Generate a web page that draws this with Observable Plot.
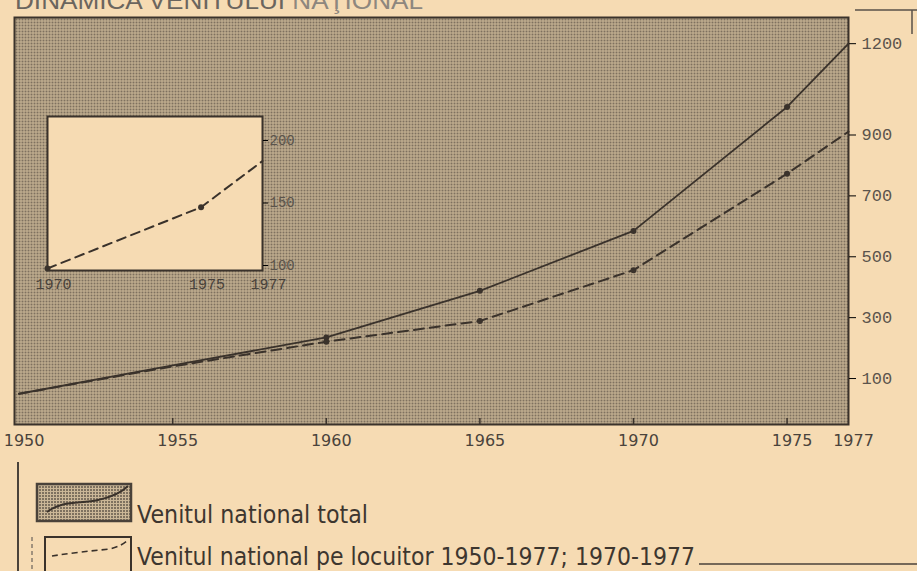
<!DOCTYPE html>
<html><head><meta charset="utf-8">
<script src="https://cdn.jsdelivr.net/npm/d3@7"></script>
<script src="https://cdn.jsdelivr.net/npm/@observablehq/plot@0.6"></script>
<style>
html,body{margin:0;padding:0;background:#f6dbb3;}
#page{position:relative;width:917px;height:571px;overflow:hidden;background:#f6dbb3;}
#page > svg{position:absolute;left:0;top:0;}
</style></head><body>
<svg width="0" height="0" style="position:absolute">
<defs><pattern id="stip" width="3" height="3" patternUnits="userSpaceOnUse"><rect width="3" height="3" fill="#cbb797"/><rect width="2" height="2" fill="#7e715f"/></pattern></defs></svg>
<div id="page"></div>
<script>
// ---- data ----
const titleMain = "DINAMICA VENITULUI ";
const titleEnd = "NAŢIONAL";
const seriesNames = ["Venitul national total", "Venitul national pe locuitor 1950-1977; 1970-1977"];
const years = [1950, 1955, 1960, 1965, 1970, 1975, 1977];
const totalIncome = [50, 143, 235, 388, 585, 992, 1200];
const perCapita = [50, 140, 221, 289, 456, 773, 911];
const markerYears = [1960, 1965, 1970, 1975];
const xTicks = [1950, 1955, 1960, 1965, 1970, 1975, 1977];
const yTicks = [100, 300, 500, 700, 900, 1200];
const insetYears = [1970, 1975, 1977];
const insetPerCapita = [100, 149, 186];
const insetMarkerYears = [1970, 1975];
const insetXTicks = [1970, 1975, 1977];
const insetYTicks = [100, 150, 200];

const ink = "#3a322b";
const page = document.getElementById("page");

const totalData = years.map((y, i) => ({year: y, value: totalIncome[i]}));
const capData = years.map((y, i) => ({year: y, value: perCapita[i]}));
const insetData = insetYears.map((y, i) => ({year: y, value: insetPerCapita[i]}));

// decorations: title + legend
const deco = d3.select(page).append("svg").attr("width", 917).attr("height", 571);
const t = deco.append("text").attr("x", 15).attr("y", 9)
  .attr("font-family", "Liberation Sans, Arial, sans-serif").attr("font-size", 24)
  .attr("textLength", 408).attr("lengthAdjust", "spacingAndGlyphs").attr("fill", "#6b655e");
t.append("tspan").text(titleMain);
t.append("tspan").attr("fill", "#8e877e").text(titleEnd);
// page artifacts top right
deco.append("path").attr("d", "M855,10H917M912,10V34").attr("stroke", "#5a524a").attr("stroke-width", 1.5).attr("fill", "none");

// legend
deco.append("path").attr("d", "M18,462V571").attr("stroke", "#4a423a").attr("stroke-width", 2);
deco.append("path").attr("d", "M32,537V571").attr("stroke", "#6a625a").attr("stroke-width", 1.2).attr("stroke-dasharray", "4,3");
deco.append("rect").attr("x", 37).attr("y", 484).attr("width", 94).attr("height", 37)
  .attr("fill", "url(#stip)").attr("stroke", "#4a423a").attr("stroke-width", 2.5);
deco.append("path").attr("d", "M47,512C62,500 80,504 98,500C112,497 122,492 128,486")
  .attr("stroke", "#3a322b").attr("stroke-width", 2).attr("fill", "none");
deco.append("rect").attr("x", 45).attr("y", 537).attr("width", 86).attr("height", 50)
  .attr("fill", "none").attr("stroke", "#3a322b").attr("stroke-width", 2);
deco.append("path").attr("d", "M52,556C70,553 90,551 110,549C118,547 124,544 128,540")
  .attr("stroke", "#3a322b").attr("stroke-width", 1.6).attr("fill", "none").attr("stroke-dasharray", "6,4");
const legendText = [{x: 137, y: 523, w: 231}, {x: 137, y: 565, w: 558}];
seriesNames.forEach((name, i) => {
  deco.append("text").attr("x", legendText[i].x).attr("y", legendText[i].y)
    .attr("font-family", "DejaVu Sans, sans-serif").attr("font-size", 25)
    .attr("textLength", legendText[i].w).attr("lengthAdjust", "spacingAndGlyphs")
    .attr("fill", "#3d362f").text(name);
});
deco.append("path").attr("d", "M699,564H917").attr("stroke", "#4a423a").attr("stroke-width", 1.6);

// main chart
const main = Plot.plot({
  width: 917, height: 460,
  marginLeft: 14, marginRight: 69, marginTop: 17, marginBottom: 36,
  style: {background: "transparent", overflow: "visible"},
  x: {domain: [1949.85, 1977], label: null},
  y: {domain: [-51, 1286], label: null},
  marks: [
    Plot.frame({fill: "url(#stip)", stroke: ink, strokeWidth: 2}),
    Plot.tickX(xTicks.slice(1, -1), {x: d => d, insetTop: 401, stroke: ink, strokeWidth: 1.5}),
    Plot.axisX({ticks: xTicks, tickSize: 0, tickPadding: 10, dx: 5, tickFormat: d => String(d),
      fontSize: 16, fontFamily: "DejaVu Sans, sans-serif", fill: "#4a433c"}),
    Plot.axisY({anchor: "right", ticks: yTicks, tickSize: 7, tickPadding: 6, tickFormat: d => String(d),
      fontSize: 17, fontFamily: "Liberation Mono, monospace", fill: "#5b544c"}),
    Plot.line(totalData, {x: "year", y: "value", stroke: ink, strokeWidth: 1.8}),
    Plot.line(capData, {x: "year", y: "value", stroke: ink, strokeWidth: 2, strokeDasharray: "10,6"}),
    Plot.dot(totalData.filter(d => markerYears.includes(d.year)), {x: "year", y: "value", r: 3, fill: ink}),
    Plot.dot(capData.filter(d => markerYears.includes(d.year)), {x: "year", y: "value", r: 3, fill: ink})
  ]
});
page.appendChild(main);

// inset chart
const inset = Plot.plot({
  width: 320, height: 300,
  marginLeft: 47, marginRight: 58, marginTop: 116, marginBottom: 30,
  style: {background: "transparent", overflow: "visible"},
  x: {domain: [1970, 1977], label: null},
  y: {domain: [98.4, 221.6], label: null},
  marks: [
    Plot.frame({fill: "#f6dbb3", stroke: ink, strokeWidth: 2}),
    Plot.axisY({anchor: "right", ticks: insetYTicks, tickSize: 5, tickPadding: 2, dy: -3, tickFormat: d => String(d),
      fontSize: 14, fontFamily: "Liberation Mono, monospace", fill: "#5b544c"}),
    Plot.axisX({ticks: insetXTicks, tickSize: 0, tickPadding: 8, dx: 6, tickFormat: d => String(d),
      fontSize: 15, fontFamily: "Liberation Mono, monospace", fill: "#4a433c"}),
    Plot.line(insetData, {x: "year", y: "value", stroke: ink, strokeWidth: 2, strokeDasharray: "9,6"}),
    Plot.dot(insetData.filter(d => insetMarkerYears.includes(d.year)), {x: "year", y: "value", r: 3, fill: ink})
  ]
});
page.appendChild(inset);
</script>
</body></html>
